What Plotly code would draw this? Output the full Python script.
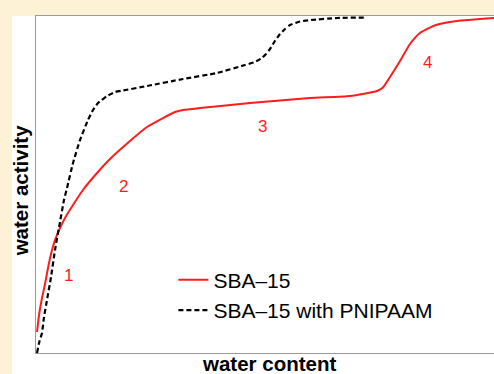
import plotly.graph_objects as go

# Water sorption isotherms (arbitrary units, water content normalised to 0..1)
sba15_content = [0.0022, 0.0066, 0.0131, 0.0197, 0.0262, 0.0328, 0.0415, 0.0524, 0.0633,
                 0.0808, 0.1026, 0.1332, 0.1616, 0.2052, 0.2424, 0.2773, 0.3035, 0.3210,
                 0.3581, 0.4672, 0.5983, 0.6856, 0.7445, 0.7576, 0.7729, 0.7948, 0.8166,
                 0.8384, 0.8734, 0.9192, 1.0]
sba15_activity = [0.0623, 0.1128, 0.1632, 0.2047, 0.2522, 0.2938, 0.3353, 0.3709, 0.4006,
                  0.4392, 0.4837, 0.5341, 0.5757, 0.6291, 0.6706, 0.6973, 0.7151, 0.7211,
                  0.7270, 0.7418, 0.7567, 0.7626, 0.7774, 0.7878, 0.8190, 0.8665, 0.9169,
                  0.9496, 0.9733, 0.9852, 0.9941]

pnipaam_content = [0.0022, 0.0066, 0.0131, 0.0175, 0.0240, 0.0328, 0.0415, 0.0524, 0.0611,
                   0.0677, 0.0808, 0.0961, 0.1135, 0.1245, 0.1354, 0.1550, 0.1725, 0.1900,
                   0.2424, 0.3210, 0.3952, 0.4563, 0.4782, 0.4934, 0.5022, 0.5109, 0.5218,
                   0.5328, 0.5437, 0.5546, 0.5764, 0.6004, 0.6572, 0.7205]
pnipaam_activity = [0.0, 0.0297, 0.0593, 0.1068, 0.1573, 0.2255, 0.3056, 0.3887, 0.4540,
                    0.4896, 0.5638, 0.6320, 0.6914, 0.7211, 0.7418, 0.7626, 0.7745, 0.7789,
                    0.7923, 0.8131, 0.8309, 0.8546, 0.8635, 0.8754, 0.8872, 0.9021, 0.9258,
                    0.9466, 0.9614, 0.9733, 0.9837, 0.9881, 0.9941, 0.9955]

# Regime labels along the SBA-15 isotherm
region_labels = ["1", "2", "3", "4"]
region_x = [0.072, 0.190, 0.494, 0.854]
region_y = [0.230, 0.493, 0.671, 0.861]

RED = "rgb(255,28,28)"
FONT = "Liberation Sans, Arial, Helvetica, sans-serif"

fig = go.Figure()
fig.add_trace(go.Scatter(
    x=sba15_content, y=sba15_activity, mode="lines", name="SBA\u201315",
    line=dict(color=RED, width=2, shape="spline", smoothing=0.5),
))
fig.add_trace(go.Scatter(
    x=pnipaam_content, y=pnipaam_activity, mode="lines", name="SBA\u201315 with PNIPAAM",
    line=dict(color="black", width=2.2, dash="5px,3px", shape="spline", smoothing=0.4),
))

for t, xx, yy in zip(region_labels, region_x, region_y):
    fig.add_annotation(x=xx, y=yy, xref="x", yref="y", text=t, showarrow=False,
                       font=dict(family=FONT, size=17, color=RED))

# White panel behind the axes
fig.add_shape(type="rect", xref="paper", yref="paper", x0=-0.0524, x1=1.01, y0=-0.07, y1=1.0,
              fillcolor="white", line=dict(width=0), layer="below")

fig.add_annotation(xref="paper", yref="paper", x=-0.034, y=0.481, text="<b>water activity</b>",
                   textangle=-90, showarrow=False, xanchor="center", yanchor="middle",
                   font=dict(family=FONT, size=20.5, color="black"))
fig.add_annotation(xref="paper", yref="paper", x=0.509, y=-0.031, text="<b>water content</b>",
                   showarrow=False, xanchor="center", yanchor="middle",
                   font=dict(family=FONT, size=20.5, color="black"))

fig.update_layout(
    width=494, height=374,
    margin=dict(l=36, r=0, t=16, b=21),
    paper_bgcolor="#FDF1D6",
    plot_bgcolor="white",
    showlegend=True,
    legend=dict(x=0.30, y=0.277, xanchor="left", yanchor="top", bgcolor="rgba(0,0,0,0)",
                font=dict(family=FONT, size=21, color="black"), itemwidth=30,
                tracegroupgap=0),
    xaxis=dict(range=[0, 1.0], showgrid=False, zeroline=False, showticklabels=False,
               ticks="", showline=True, linecolor="#9a9a9a", linewidth=1.2, mirror=True),
    yaxis=dict(range=[0, 1.0], showgrid=False, zeroline=False, showticklabels=False,
               ticks="", showline=True, linecolor="#9a9a9a", linewidth=1.2, mirror=False),
)

fig.write_html("out.html")
